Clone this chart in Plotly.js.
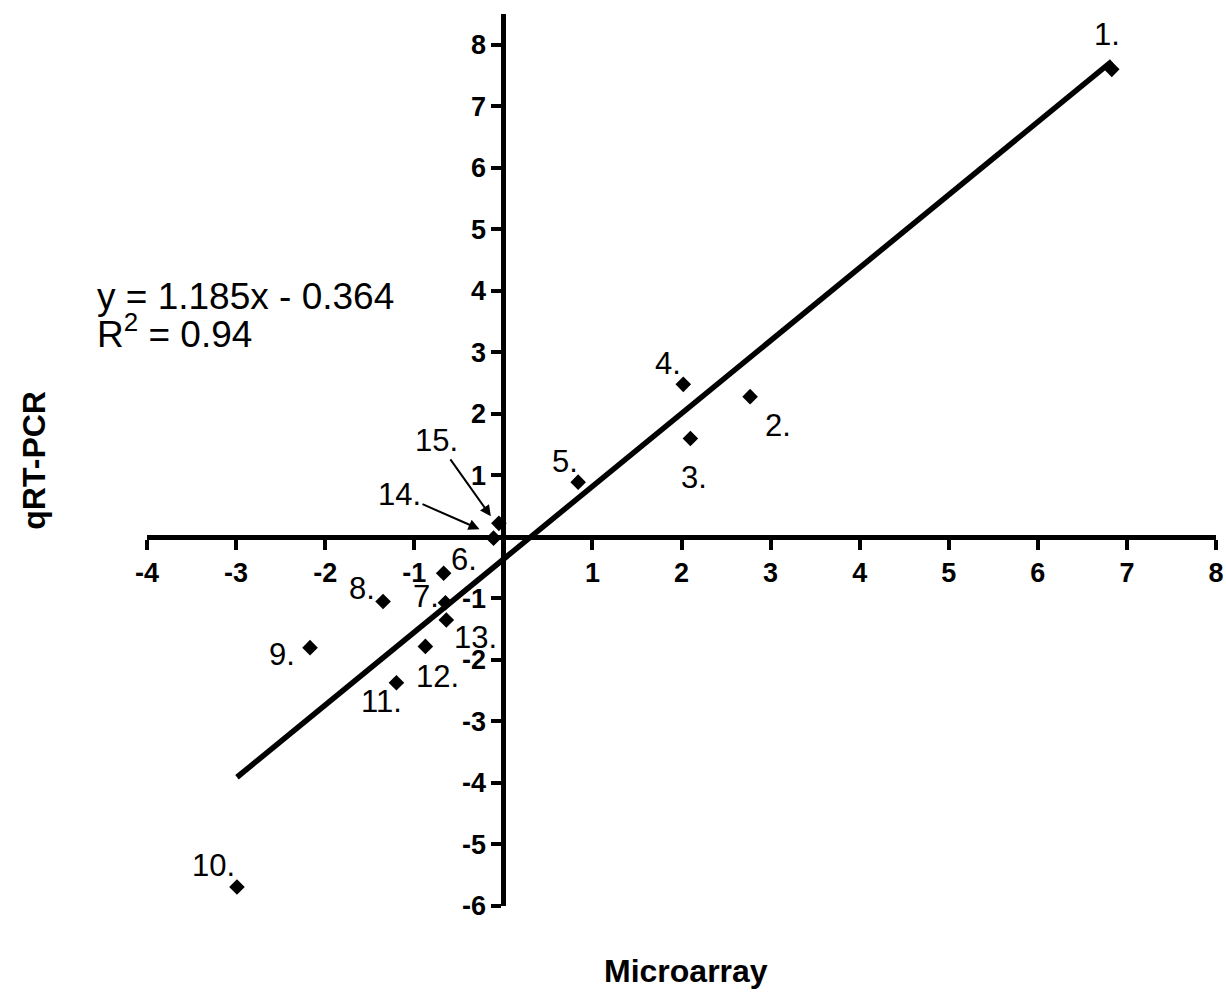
<!DOCTYPE html>
<html><head><meta charset="utf-8">
<script src="https://cdn.plot.ly/plotly-3.0.1.min.js"></script>
<style>html,body{margin:0;padding:0;background:#fff}</style>
</head><body><div id="chart" style="width:1226px;height:992px"></div>
<script>
// ---- data ----
const pointLabels = ['1.','2.','3.','4.','5.','6.','7.','8.','9.','10.','11.','12.','13.','14.','15.'];
const microarray = [6.83, 2.77, 2.10, 2.02, 0.84, -0.67, -0.65, -1.35, -2.17, -2.99, -1.20, -0.875, -0.64, -0.11, -0.05];
const qrtpcr     = [7.60, 2.28, 1.60, 2.48, 0.89, -0.59, -1.07, -1.05, -1.80, -5.69, -2.37, -1.78, -1.35, -0.02, 0.22];
const fitSlope = 1.185;
const fitIntercept = -0.364;
const rSquared = 0.94;
const xTickVals = [-4,-3,-2,-1,1,2,3,4,5,6,7,8];
const yTickVals = [-6,-5,-4,-3,-2,-1,1,2,3,4,5,6,7,8];
const xTitle = 'Microarray';
const yTitle = 'qRT-PCR';

// ---- styling: label offsets in pixels (xshift, yshift) ----
const labelShift = [[-5,35],[28,-29],[4,-39],[-15,21],[-13,21],[20,14],[-19,6],[-21,13],[-28,-7],[-23,21],[-15,-19],[12,-30],[29,-18]];
// labels with arrows: index -> [head xshift, head yshift, ax, ay] (ax/ay = text offset from arrow head)
const arrowSpec = {13: [-14, 9, -80, -35], 14: [-8, 7, -54, -76]};

const xRange = [-4, 8], yRange = [-6, 8.5];
const fitX = [Math.min(...microarray), Math.max(...microarray)];
const fitY = fitX.map(v => fitSlope * v + fitIntercept);

const FONT = 'Liberation Sans, Arial, sans-serif';
const LABEL_SIZE = 31;

const traces = [
  {x: fitX, y: fitY, mode: 'lines', type: 'scatter', line: {color: '#000', width: 5.5}, hoverinfo: 'skip', cliponaxis: false},
  {x: microarray, y: qrtpcr, mode: 'markers', type: 'scatter', marker: {symbol: 'diamond', size: 12, color: '#000'}, cliponaxis: false}
];

const annotations = [];
pointLabels.forEach((lab, i) => {
  if (arrowSpec[i]) {
    const a = arrowSpec[i];
    annotations.push({x: microarray[i], y: qrtpcr[i], xref: 'x', yref: 'y', text: lab, showarrow: true,
      xshift: a[0], yshift: a[1], ax: a[2], ay: a[3], arrowhead: 2, arrowsize: 1.1, arrowwidth: 2, arrowcolor: '#000',
      font: {family: FONT, size: LABEL_SIZE, color: '#000'}});
  } else {
    annotations.push({x: microarray[i], y: qrtpcr[i], xref: 'x', yref: 'y', text: lab, showarrow: false,
      xshift: labelShift[i][0], yshift: labelShift[i][1], xanchor: 'center', yanchor: 'middle',
      font: {family: FONT, size: LABEL_SIZE, color: '#000'}});
  }
});
annotations.push({xref: 'paper', yref: 'paper', x: -0.0486, y: 0.6835, xanchor: 'left', yanchor: 'middle', showarrow: false,
  text: 'y = ' + fitSlope.toFixed(3) + 'x - ' + Math.abs(fitIntercept).toFixed(3), font: {family: FONT, size: 37, color: '#000'}});
annotations.push({xref: 'paper', yref: 'paper', x: -0.0486, y: 0.6445, xanchor: 'left', yanchor: 'middle', showarrow: false,
  text: 'R<sup>2</sup> = ' + rSquared.toFixed(2), font: {family: FONT, size: 37, color: '#000'}});
annotations.push({xref: 'paper', yref: 'paper', x: 0.504, y: -0.0725, xanchor: 'center', yanchor: 'middle', showarrow: false,
  text: '<b>' + xTitle + '</b>', font: {family: FONT, size: 32, color: '#000'}});
annotations.push({xref: 'paper', yref: 'paper', x: -0.106, y: 0.5, xanchor: 'center', yanchor: 'middle', showarrow: false, textangle: -90,
  text: '<b>' + yTitle + '</b>', font: {family: FONT, size: 32, color: '#000'}});

const axisCommon = {showgrid: false, zeroline: false, showline: true, linecolor: '#000', linewidth: 5,
  ticks: 'outside', ticklen: 10, tickwidth: 4, tickcolor: '#000', anchor: 'free',
  tickfont: {family: FONT, size: 27, color: '#000', weight: 'bold'}, fixedrange: true};

const layout = {
  width: 1226, height: 992,
  margin: {l: 147, r: 10, t: 14, b: 86},
  paper_bgcolor: '#fff', plot_bgcolor: '#fff',
  showlegend: false,
  xaxis: Object.assign({}, axisCommon, {range: xRange, tickvals: xTickVals, ticktext: xTickVals.map(String),
    position: (0 - yRange[0]) / (yRange[1] - yRange[0])}),
  yaxis: Object.assign({}, axisCommon, {range: yRange, tickvals: yTickVals, ticktext: yTickVals.map(String),
    position: (0 - xRange[0]) / (xRange[1] - xRange[0])}),
  annotations: annotations
};

Plotly.newPlot('chart', traces, layout, {displayModeBar: false, staticPlot: true});
</script>
</body></html>
